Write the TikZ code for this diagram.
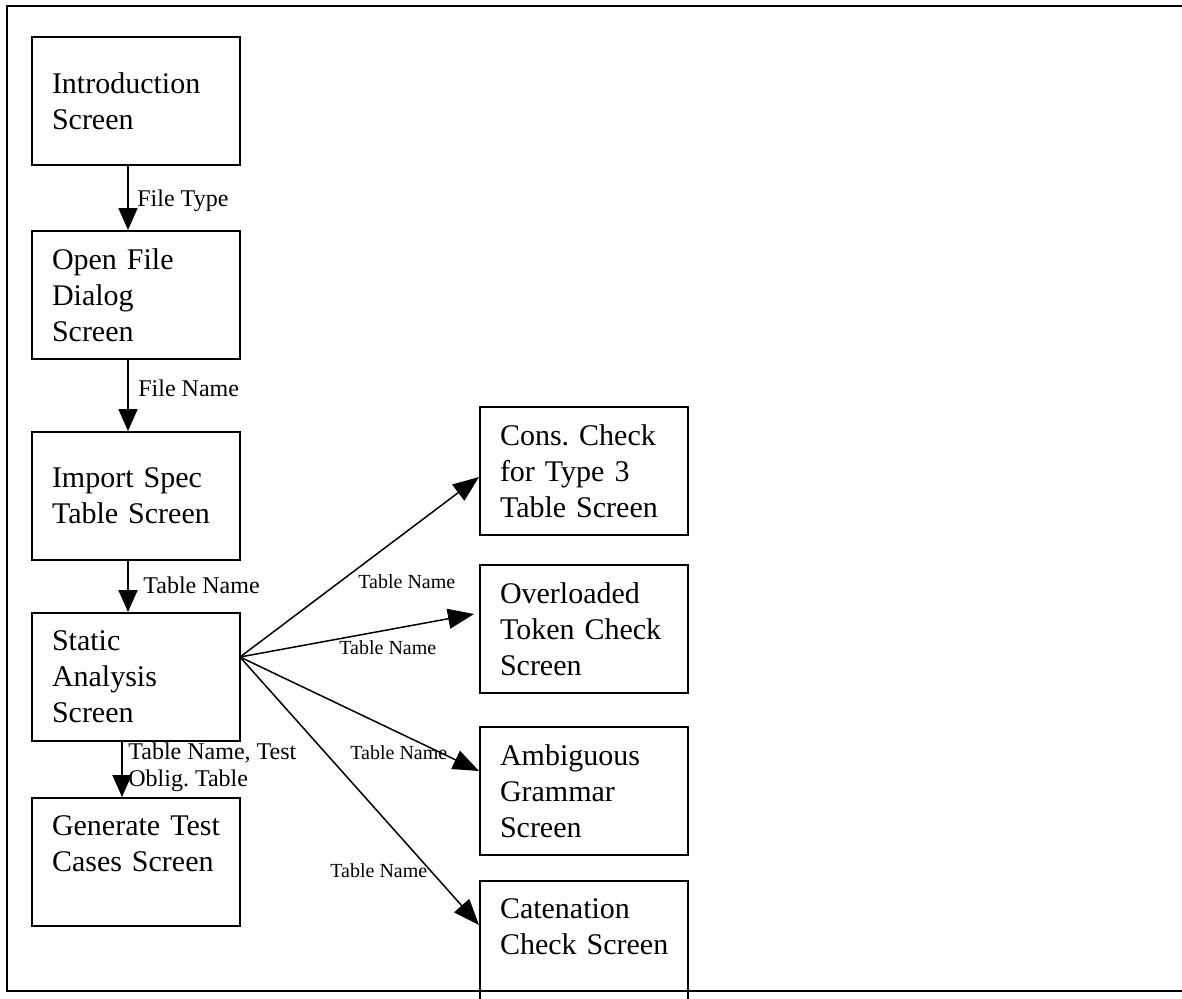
\documentclass[tikz,border=0pt]{standalone}
\usepackage{fontspec}
\setmainfont{Liberation Serif}
\usetikzlibrary{positioning,arrows.meta}
\tikzset{
  line/.style={-{Triangle[length=11pt,width=9.5pt]}, line width=0.9pt},
  thinline/.style={-{Triangle[length=13pt,width=10pt]}, line width=0.75pt},
  screen/.style={draw, line width=1pt, anchor=north, minimum width=104pt, minimum height=64pt,
    text width=84pt, inner xsep=10pt, inner ysep=0pt, align=left,
    font=\fontsize{15}{18}\selectfont\frenchspacing},
  lbl/.style={inner sep=0pt, anchor=base west, font=\fontsize{12}{13.5}\selectfont\frenchspacing},
  smalllbl/.style={lbl, font=\fontsize{10}{12}\selectfont}
}
\begin{document}
\begin{tikzpicture}[x=0.5pt, y=-0.5pt]
  \clip (0,0) rectangle (1182,998);
  \draw[line width=0.9pt] (7,6) rectangle (1200,991);

  % left column
  \node[screen] (intro) at (136,36) {Introduction\\Screen};
  \node[screen, below=32pt of intro] (open) {Open File\\Dialog\\Screen};
  \node[screen, below=35.5pt of open] (import) {Import Spec\\Table~Screen};
  \node[screen, below=25.5pt of import] (static) {Static\\Analysis\\Screen};
  \node[screen, below=27.5pt of static] (gen) {Generate~Test\\Cases~Screen\\~};

  % checks
  \node[screen] (cons) at (584,406) {Cons.~Check\\for Type 3\\Table~Screen};
  \node[screen, below=14pt of cons] (over) {Overloaded\\Token~Check\\Screen};
  \node[screen, below=16pt of over] (ambig) {Ambiguous\\Grammar\\Screen};
  \node[screen, below=12pt of ambig] (caten) {Catenation\\Check~Screen\\~};

  \draw[line] ([xshift=-4pt]intro.south) -- ([xshift=-4pt]open.north);
  \draw[line] ([xshift=-4pt]open.south) -- ([xshift=-4pt]import.north);
  \draw[line] ([xshift=-4pt]import.south) -- ([xshift=-4pt]static.north);
  \draw[line] ([xshift=-7pt]static.south) -- ([xshift=-7pt]gen.north);

  \coordinate (fan) at (240,657);
  \draw[thinline] (fan) -- ([yshift=-3pt]cons.west);
  \draw[thinline] (fan) -- ([xshift=-2.5pt,yshift=7.5pt]over.west);
  \draw[thinline] (fan) -- ([yshift=10pt]ambig.west);
  \draw[thinline] (fan) -- ([yshift=10pt]caten.west);

  \node[lbl] (ftype) at (137,206) {File Type};
  \node[lbl] (fname) at (138,396) {File Name};
  \node[lbl] (tname) at (143,593) {Table Name};
  \node[lbl, anchor=north west, align=left] (tobl) at (128,742) {Table Name, Test\\Oblig. Table};
  \node[smalllbl] (tcons) at (358,588) {Table Name};
  \node[smalllbl] (tover) at (339,654) {Table Name};
  \node[smalllbl] (tambig) at (350,759) {Table Name};
  \node[smalllbl] (tcaten) at (330,877) {Table Name};
\end{tikzpicture}
\end{document}
